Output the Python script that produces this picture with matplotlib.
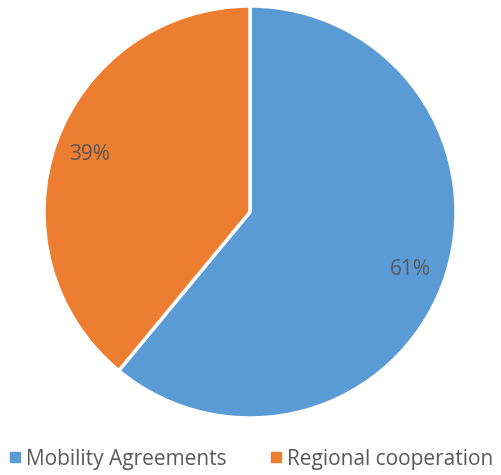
import matplotlib.pyplot as plt
from matplotlib.lines import Line2D

labels = ["Mobility Agreements", "Regional cooperation"]
shares = [61, 39]
colors = ["#5B9BD5", "#ED7D31"]

plt.rcParams["font.family"] = ["Open Sans", "DejaVu Sans"]
text_grey = "#595959"

W, H = 501, 475
fig = plt.figure(figsize=(W / 100, H / 100), dpi=100)
cx, cy, r = 250, 212, 206
ax = fig.add_axes([(cx - r) / W, 1 - (cy + r) / H, 2 * r / W, 2 * r / H])

wedges, texts, autotexts = ax.pie(
    shares, colors=colors, startangle=90, counterclock=False,
    autopct="%1.0f%%", pctdistance=0.83,
    wedgeprops=dict(edgecolor="white", linewidth=2.5),
    textprops=dict(color=text_grey, fontsize=15),
)
ax.set_aspect("equal")
ax.set_xlim(-1, 1)
ax.set_ylim(-1, 1)

handles = [Line2D([], [], marker="s", linestyle="", markersize=6.5,
                  markerfacecolor=c, markeredgecolor=c) for c in colors]
fig.legend(handles, labels, loc="center", bbox_to_anchor=(0.5, 1 - 459 / H),
           ncol=2, frameon=False, fontsize=15, labelcolor=text_grey,
           handletextpad=0.2, columnspacing=2.0, handlelength=0.7,
           borderpad=0, borderaxespad=0)

fig.savefig("out.png", dpi=100)
